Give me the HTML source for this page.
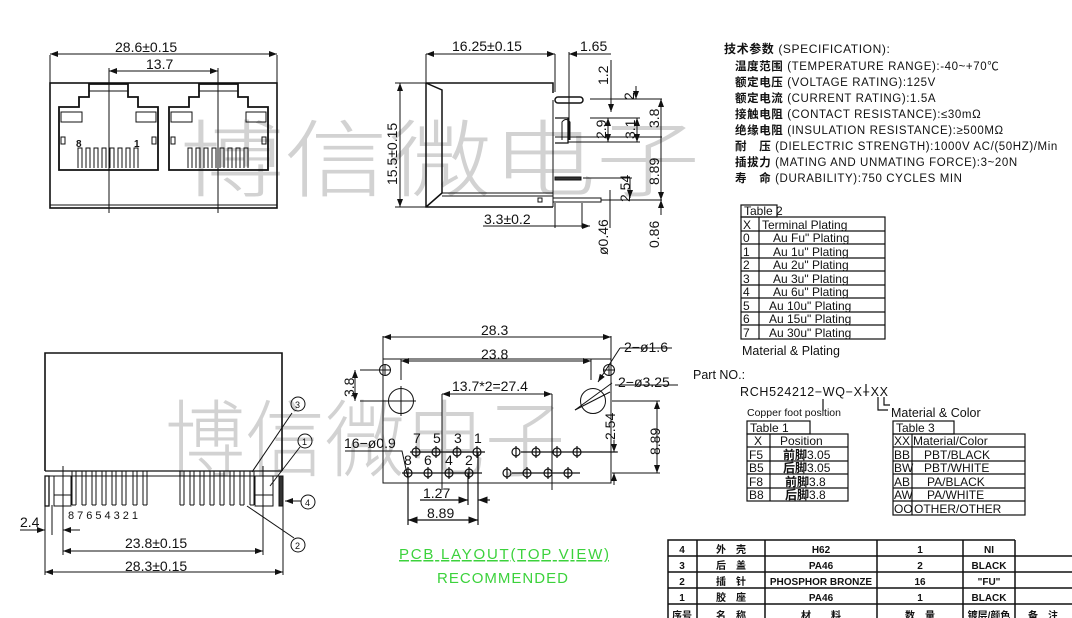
<!DOCTYPE html>
<html><head><meta charset="utf-8"><style>
html,body{margin:0;padding:0;background:#fff;width:1072px;height:618px;overflow:hidden}
svg{display:block}
text{font-family:"Liberation Sans","Noto Sans CJK SC",sans-serif;fill:#111}
.wm{fill:#d2d2d2;font-family:"Noto Sans CJK SC","WenQuanYi Zen Hei",sans-serif;font-size:84px;font-weight:300}
.d{font-size:14px}
.s{font-size:11px}
.t{font-size:11.5px;letter-spacing:0.6px}
</style></head><body>
<svg width="1072" height="618" viewBox="0 0 1072 618" xmlns="http://www.w3.org/2000/svg">
<defs>
<marker id="a" markerWidth="8" markerHeight="6" refX="8" refY="3" orient="auto-start-reverse"><path d="M0,0 L8,3 L0,6" fill="#111"/></marker>
</defs>
<text class="wm" x="180" y="190" textLength="520" lengthAdjust="spacingAndGlyphs">博信微电子</text>
<text class="wm" x="165" y="470" textLength="400" lengthAdjust="spacingAndGlyphs">博信微电子</text>

<g stroke="#111" fill="none" stroke-width="1">
<rect x="50" y="83" width="227" height="125" stroke-width="1.6"/>
<line x1="50" y1="205" x2="277" y2="205"/>
<line x1="50" y1="55" x2="50" y2="83"/><line x1="277" y1="55" x2="277" y2="83"/>
<line x1="50" y1="54" x2="277" y2="54" marker-start="url(#a)" marker-end="url(#a)"/>
<line x1="109" y1="71" x2="218" y2="71" marker-start="url(#a)" marker-end="url(#a)"/>
<line x1="109" y1="68" x2="109" y2="213"/><line x1="218" y1="68" x2="218" y2="213"/>
<g id="port" stroke-width="1.8">
<path d="M89,84 L128,84 L128,97 L138,97 L138,107 L158,107 L158,170 L59,170 L59,107 L79,107 L79,97 L89,97 Z"/>
<line x1="89" y1="91" x2="128" y2="91" stroke-width="1"/>
<rect x="61" y="112" width="21" height="10" stroke-width="1"/>
<rect x="136" y="112" width="20" height="10" stroke-width="1"/>
<rect x="61" y="137" width="4" height="7" stroke-width="1"/>
<rect x="152" y="137" width="4" height="7" stroke-width="1"/>
<path d="M78,168 V148 H82 V168 M86,168 V148 H90 V168 M94,168 V148 H98 V168 M102,168 V148 H106 V168 M110,168 V148 H114 V168 M118,168 V148 H122 V168 M126,168 V148 H130 V168 M134,168 V148 H138 V168" stroke-width="1"/>
</g>
<use href="#port" x="110"/>

<path d="M426,83 L553,83 L553,93 M426,83 L426,207 L553,207 M426,83 L442,90 L442,193 L426,207" stroke-width="1.5"/>
<line x1="442" y1="193" x2="553" y2="193"/><line x1="442" y1="196" x2="553" y2="196"/>
<line x1="553" y1="100" x2="553" y2="207"/>
<rect x="555" y="97" width="28" height="6" rx="3" stroke-width="1.5"/>
<path d="M555,118 L568,118 L568,143 L555,143" stroke-width="1.3"/>
<path d="M562,140 V122 Q566,117 570,122 V140" />
<rect x="555" y="177" width="26" height="3" fill="#333"/>
<rect x="553" y="198" width="48" height="4"/>
<rect x="538" y="198" width="4" height="4"/>
<line x1="426" y1="54" x2="426" y2="83"/><line x1="555" y1="54" x2="555" y2="92"/>
<line x1="426" y1="54" x2="555" y2="54" marker-start="url(#a)" marker-end="url(#a)"/>
<line x1="569" y1="52" x2="569" y2="140"/>
<line x1="569" y1="54" x2="611" y2="54" marker-start="url(#a)"/>
<line x1="400" y1="83" x2="400" y2="207" marker-start="url(#a)" marker-end="url(#a)"/>
<line x1="395" y1="83" x2="426" y2="83"/><line x1="395" y1="207" x2="426" y2="207"/>
<line x1="611" y1="60" x2="611" y2="112" marker-end="url(#a)"/>
<line x1="636" y1="86" x2="636" y2="99" marker-end="url(#a)"/>
<line x1="590" y1="99" x2="662" y2="99"/><line x1="590" y1="118" x2="640" y2="118"/>
<line x1="555" y1="137" x2="662" y2="137"/><line x1="568" y1="142" x2="640" y2="142"/>
<line x1="608" y1="118" x2="608" y2="142" marker-start="url(#a)" marker-end="url(#a)"/>
<line x1="637" y1="118" x2="637" y2="142" marker-start="url(#a)" marker-end="url(#a)"/>
<line x1="661" y1="99" x2="661" y2="200" marker-start="url(#a)" marker-end="url(#a)"/>
<line x1="601" y1="200" x2="662" y2="200"/>
<line x1="583" y1="178" x2="632" y2="178"/>
<line x1="630" y1="178" x2="630" y2="198" marker-end="url(#a)"/>
<line x1="610" y1="190" x2="610" y2="228"/>
<line x1="661" y1="200" x2="661" y2="215" marker-start="url(#a)"/>
<line x1="555" y1="203" x2="555" y2="228"/><line x1="582" y1="203" x2="582" y2="228"/>
<line x1="483" y1="226" x2="590" y2="226" marker-end="url(#a)"/>

<path d="M45,471 V353 H282 V471" stroke-width="1.6"/>
<line x1="45" y1="471" x2="282" y2="471" stroke-width="1.3"/>
<line x1="45" y1="476" x2="282" y2="476"/>
<rect x="45" y="476" width="4" height="30" stroke-width="1.3"/>
<rect x="279" y="476" width="4" height="30" fill="#333"/>
<rect x="54" y="476" width="17" height="30"/><line x1="54" y1="495" x2="71" y2="495"/>
<rect x="255" y="476" width="18" height="30"/><line x1="255" y1="495" x2="273" y2="495"/>
<path d="M72,505 V471 M76,505 V471 M82,505 V471 M86,505 V471 M92,505 V471 M96,505 V471 M102,505 V471 M106,505 V471 M112,505 V471 M116,505 V471 M122,505 V471 M126,505 V471 M133,505 V471 M137,505 V471 M143,505 V471 M147,505 V471 M72,505 H76 M82,505 H86 M92,505 H96 M102,505 H106 M112,505 H116 M122,505 H126 M133,505 H137 M143,505 H147"/>
<path d="M180,505 V471 M184,505 V471 M190,505 V471 M194,505 V471 M200,505 V471 M204,505 V471 M210,505 V471 M214,505 V471 M220,505 V471 M224,505 V471 M230,505 V471 M234,505 V471 M240,505 V471 M244,505 V471 M250,505 V471 M254,505 V471 M180,505 H184 M190,505 H194 M200,505 H204 M210,505 H214 M220,505 H224 M230,505 H234 M240,505 H244 M250,505 H254"/>
<line x1="63" y1="466" x2="63" y2="555"/><line x1="263" y1="466" x2="263" y2="555"/>
<line x1="45" y1="506" x2="45" y2="575"/><line x1="283" y1="506" x2="283" y2="575"/>
<line x1="63" y1="551" x2="263" y2="551" marker-start="url(#a)" marker-end="url(#a)"/>
<line x1="45" y1="572" x2="283" y2="572" marker-start="url(#a)" marker-end="url(#a)"/>
<line x1="20" y1="530" x2="45" y2="530" marker-end="url(#a)"/><line x1="63" y1="530" x2="80" y2="530" marker-start="url(#a)"/>
<line x1="52" y1="505" x2="52" y2="535"/>
<line x1="292" y1="413" x2="252" y2="472"/><circle cx="298" cy="404" r="7"/>
<line x1="300" y1="447" x2="270" y2="486"/><circle cx="305" cy="441" r="7"/>
<line x1="301" y1="501" x2="285" y2="501" marker-end="url(#a)"/><circle cx="308" cy="502" r="7"/>
<line x1="294" y1="538" x2="247" y2="506"/><circle cx="298" cy="545" r="7"/>

<rect x="383" y="359" width="228" height="124"/>
<line x1="383" y1="336" x2="383" y2="359"/><line x1="611" y1="336" x2="611" y2="359"/>
<line x1="383" y1="337" x2="611" y2="337" marker-start="url(#a)" marker-end="url(#a)"/>
<line x1="401" y1="361" x2="591" y2="361" marker-start="url(#a)" marker-end="url(#a)"/>
<line x1="401" y1="359" x2="401" y2="380"/><line x1="591" y1="359" x2="591" y2="380"/>
<circle cx="385" cy="370" r="5.5"/><path d="M379,370 H391 M385,364 V376"/>
<circle cx="609" cy="370" r="5.5"/><path d="M603,370 H615 M609,364 V376"/>
<circle cx="401" cy="401" r="12.5"/><path d="M386,401 H416 M401,386 V416"/>
<circle cx="593" cy="401" r="12.5"/><path d="M575,410 L610,392"/>
<line x1="360" y1="370" x2="380" y2="370"/><line x1="360" y1="401" x2="388" y2="401"/>
<line x1="355" y1="370" x2="355" y2="401" marker-start="url(#a)" marker-end="url(#a)"/>
<line x1="442" y1="394" x2="552" y2="394" marker-start="url(#a)" marker-end="url(#a)"/>
<line x1="442" y1="394" x2="442" y2="490"/><line x1="552" y1="394" x2="552" y2="490"/>
<path d="M620,348 L598,382" marker-end="url(#a)"/><line x1="620" y1="348" x2="672" y2="348"/>
<path d="M612,383 L575,410" /><line x1="615" y1="385" x2="678" y2="385"/>
<line x1="612" y1="401" x2="660" y2="401"/><line x1="612" y1="473" x2="660" y2="473"/>
<line x1="657" y1="401" x2="657" y2="473" marker-start="url(#a)" marker-end="url(#a)"/>
<line x1="612" y1="452" x2="618" y2="452"/>
<line x1="614" y1="440" x2="614" y2="452" marker-end="url(#a)"/><line x1="614" y1="485" x2="614" y2="473" marker-end="url(#a)"/>
<path d="M345,451 H402 L408,478"/>
</g>
<g stroke="#111" stroke-width="1.2" fill="none">
<path d="M410,452 H485 M521,452 H617 M402,473 H482 M512,473 H580"/>
<g id="h"><circle cx="416" cy="452" r="4"/><path d="M416,446 V458"/></g>
<use href="#h" x="20"/><use href="#h" x="41"/><use href="#h" x="61"/>
<use href="#h" x="-8" y="21"/><use href="#h" x="12" y="21"/><use href="#h" x="33" y="21"/><use href="#h" x="53" y="21"/>
<use href="#h" x="100"/><use href="#h" x="120"/><use href="#h" x="141"/><use href="#h" x="161"/>
<use href="#h" x="91" y="21"/><use href="#h" x="111" y="21"/><use href="#h" x="132" y="21"/><use href="#h" x="152" y="21"/>
<path d="M408,478 V525 M478,452 V525 M468,473 V505"/>
<line x1="420" y1="500" x2="468" y2="500" marker-end="url(#a)"/><line x1="490" y1="500" x2="478" y2="500" marker-end="url(#a)"/>
<line x1="408" y1="520" x2="478" y2="520" marker-start="url(#a)" marker-end="url(#a)"/>
</g>

<text class="d" x="115" y="52">28.6±0.15</text>
<text class="d" x="146" y="69">13.7</text>
<text x="76" y="147" style="font-size:10px;font-weight:bold">8</text>
<text x="134" y="147" style="font-size:10px;font-weight:bold">1</text>
<text class="d" x="452" y="51">16.25±0.15</text>
<text class="d" x="580" y="51">1.65</text>
<text class="d" transform="translate(397,185) rotate(-90)">15.5±0.15</text>
<text class="d" transform="translate(608,85) rotate(-90)">1.2</text>
<text class="d" transform="translate(634,100) rotate(-90)">2</text>
<text class="d" transform="translate(606,139) rotate(-90)">2.9</text>
<text class="d" transform="translate(635,139) rotate(-90)">3.1</text>
<text class="d" transform="translate(659,128) rotate(-90)">3.8</text>
<text class="d" transform="translate(659,185) rotate(-90)">8.89</text>
<text class="d" transform="translate(630,202) rotate(-90)">2.54</text>
<text class="d" transform="translate(608,255) rotate(-90)">ø0.46</text>
<text class="d" transform="translate(659,248) rotate(-90)">0.86</text>
<text class="d" x="484" y="224">3.3±0.2</text>
<text class="s" x="68" y="519" style="letter-spacing:3px">87654321</text>
<text class="d" x="20" y="527">2.4</text>
<text class="d" x="125" y="548">23.8±0.15</text>
<text class="d" x="125" y="571">28.3±0.15</text>
<text x="295" y="408" style="font-size:9px">3</text>
<text x="302" y="445" style="font-size:9px">1</text>
<text x="305" y="506" style="font-size:9px">4</text>
<text x="295" y="549" style="font-size:9px">2</text>
<text class="d" x="481" y="335">28.3</text>
<text class="d" x="481" y="359">23.8</text>
<text class="d" x="624" y="352">2−ø1.6</text>
<text class="d" x="618" y="387">2−ø3.25</text>
<text class="d" x="452" y="391">13.7*2=27.4</text>
<text class="d" transform="translate(354,397) rotate(-90)">3.8</text>
<text class="d" x="344" y="448">16−ø0.9</text>
<text class="d" transform="translate(660,455) rotate(-90)">8.89</text>
<text class="d" transform="translate(615,440) rotate(-90)">2.54</text>
<text class="d" x="413" y="443">7</text><text class="d" x="433" y="443">5</text><text class="d" x="454" y="443">3</text><text class="d" x="474" y="443">1</text>
<text class="d" x="404" y="465">8</text><text class="d" x="424" y="465">6</text><text class="d" x="445" y="465">4</text><text class="d" x="465" y="465">2</text>
<text class="d" x="423" y="498">1.27</text>
<text class="d" x="427" y="518">8.89</text>
<text x="399" y="559" style="font-size:15px;fill:#3cd23c;text-decoration:underline" textLength="210">PCB LAYOUT(TOP  VIEW)</text>
<text x="437" y="583" style="font-size:15px;fill:#3cd23c" textLength="131">RECOMMENDED</text>

<g class="t">
<text x="724" y="53" style="font-size:12px"><tspan font-weight="bold">技术参数</tspan> (SPECIFICATION):</text>
<text x="735" y="70"><tspan font-weight="bold">温度范围</tspan> (TEMPERATURE RANGE):-40~+70℃</text>
<text x="735" y="86"><tspan font-weight="bold">额定电压</tspan> (VOLTAGE RATING):125V</text>
<text x="735" y="102"><tspan font-weight="bold">额定电流</tspan> (CURRENT RATING):1.5A</text>
<text x="735" y="118"><tspan font-weight="bold">接触电阻</tspan> (CONTACT RESISTANCE):≤30mΩ</text>
<text x="735" y="134"><tspan font-weight="bold">绝缘电阻</tspan> (INSULATION RESISTANCE):≥500MΩ</text>
<text x="735" y="150"><tspan font-weight="bold">耐　压</tspan> (DIELECTRIC STRENGTH):1000V AC/(50HZ)/Min</text>
<text x="735" y="166"><tspan font-weight="bold">插拔力</tspan> (MATING AND UNMATING FORCE):3~20N</text>
<text x="735" y="182"><tspan font-weight="bold">寿　命</tspan> (DURABILITY):750 CYCLES MIN</text>
</g>

<g stroke="#111" fill="none" stroke-width="1.2">
<rect x="741" y="205" width="36" height="12"/>
<rect x="741" y="217" width="144" height="122"/>
<path d="M759,217 V339 M741,231 H885 M741,244 H885 M741,258 H885 M741,271 H885 M741,285 H885 M741,298 H885 M741,312 H885 M741,325 H885"/>
<path d="M866,384 V396 M823,399 V411 M878,397 V410 H888 M884,397 V405 H890"/>
<rect x="747" y="421" width="63" height="13"/>
<rect x="747" y="434" width="101" height="67"/>
<path d="M770,434 V501 M747,447 H848 M747,461 H848 M747,474 H848 M747,488 H848"/>
<rect x="893" y="421" width="61" height="13"/>
<rect x="893" y="434" width="132" height="81"/>
<path d="M912,434 V515 M893,447 H1025 M893,461 H1025 M893,474 H1025 M893,488 H1025 M893,501 H1025"/>
</g>
<g style="font-size:12px">
<text x="744" y="215">Table 2</text>
<text x="743" y="229">X</text><text x="762" y="229">Terminal Plating</text>
<text x="743" y="242">0</text><text x="773" y="242">Au Fu" Plating</text>
<text x="743" y="256">1</text><text x="773" y="256">Au 1u" Plating</text>
<text x="743" y="269">2</text><text x="773" y="269">Au 2u" Plating</text>
<text x="743" y="283">3</text><text x="773" y="283">Au 3u" Plating</text>
<text x="743" y="296">4</text><text x="773" y="296">Au 6u" Plating</text>
<text x="743" y="310">5</text><text x="769" y="310">Au 10u" Plating</text>
<text x="743" y="323">6</text><text x="769" y="323">Au 15u" Plating</text>
<text x="743" y="337">7</text><text x="769" y="337">Au 30u" Plating</text>
<text x="742" y="355" style="font-size:12.5px">Material &amp; Plating</text>
<text x="693" y="379" style="font-size:12.5px">Part NO.:</text>
<text x="740" y="396" style="font-size:12.5px" textLength="148">RCH524212−WQ−X−XX</text>
<text x="747" y="416" style="font-size:10.5px">Copper foot position</text>
<text x="891" y="417" style="font-size:12.5px">Material &amp; Color</text>
<text x="750" y="432">Table 1</text>
<text x="754" y="445">X</text><text x="780" y="445">Position</text>
<text x="749" y="459">F5</text><text x="783" y="459"><tspan font-weight="bold">前脚</tspan>3.05</text>
<text x="749" y="472">B5</text><text x="783" y="472"><tspan font-weight="bold">后脚</tspan>3.05</text>
<text x="749" y="486">F8</text><text x="785" y="486"><tspan font-weight="bold">前脚</tspan>3.8</text>
<text x="749" y="499">B8</text><text x="785" y="499"><tspan font-weight="bold">后脚</tspan>3.8</text>
<text x="896" y="432">Table 3</text>
<text x="894" y="445">XX</text><text x="913" y="445">Material/Color</text>
<text x="894" y="459">BB</text><text x="924" y="459">PBT/BLACK</text>
<text x="894" y="472">BW</text><text x="924" y="472">PBT/WHITE</text>
<text x="894" y="486">AB</text><text x="927" y="486">PA/BLACK</text>
<text x="894" y="499">AW</text><text x="927" y="499">PA/WHITE</text>
<text x="894" y="513">OO</text><text x="914" y="513">OTHER/OTHER</text>
</g>

<g stroke="#111" fill="none" stroke-width="1.5">
<path d="M668,618 V540 H1015 M668,556 H1072 M668,572 H1072 M668,588 H1072 M668,604 H1072 M697,540 V618 M765,540 V618 M877,540 V618 M963,540 V618 M1015,540 V618"/>
</g>
<g style="font-size:10px;font-weight:bold;font-family:'Liberation Serif','Noto Serif CJK SC',serif" text-anchor="middle">
<text x="682" y="553">4</text><text x="731" y="553">外　壳</text><text x="821" y="553">H62</text><text x="920" y="553">1</text><text x="989" y="553">NI</text>
<text x="682" y="569">3</text><text x="731" y="569">后　盖</text><text x="821" y="569">PA46</text><text x="920" y="569">2</text><text x="989" y="569">BLACK</text>
<text x="682" y="585">2</text><text x="731" y="585">插　针</text><text x="821" y="585">PHOSPHOR BRONZE</text><text x="920" y="585">16</text><text x="989" y="585">"FU"</text>
<text x="682" y="601">1</text><text x="731" y="601">胶　座</text><text x="821" y="601">PA46</text><text x="920" y="601">1</text><text x="989" y="601">BLACK</text>
<text x="682" y="619">序号</text><text x="731" y="619">名　称</text><text x="821" y="619">材　　料</text><text x="920" y="619">数　量</text><text x="989" y="619">镀层/颜色</text><text x="1043" y="619">备　注</text>
</g>
</svg>
</body></html>
